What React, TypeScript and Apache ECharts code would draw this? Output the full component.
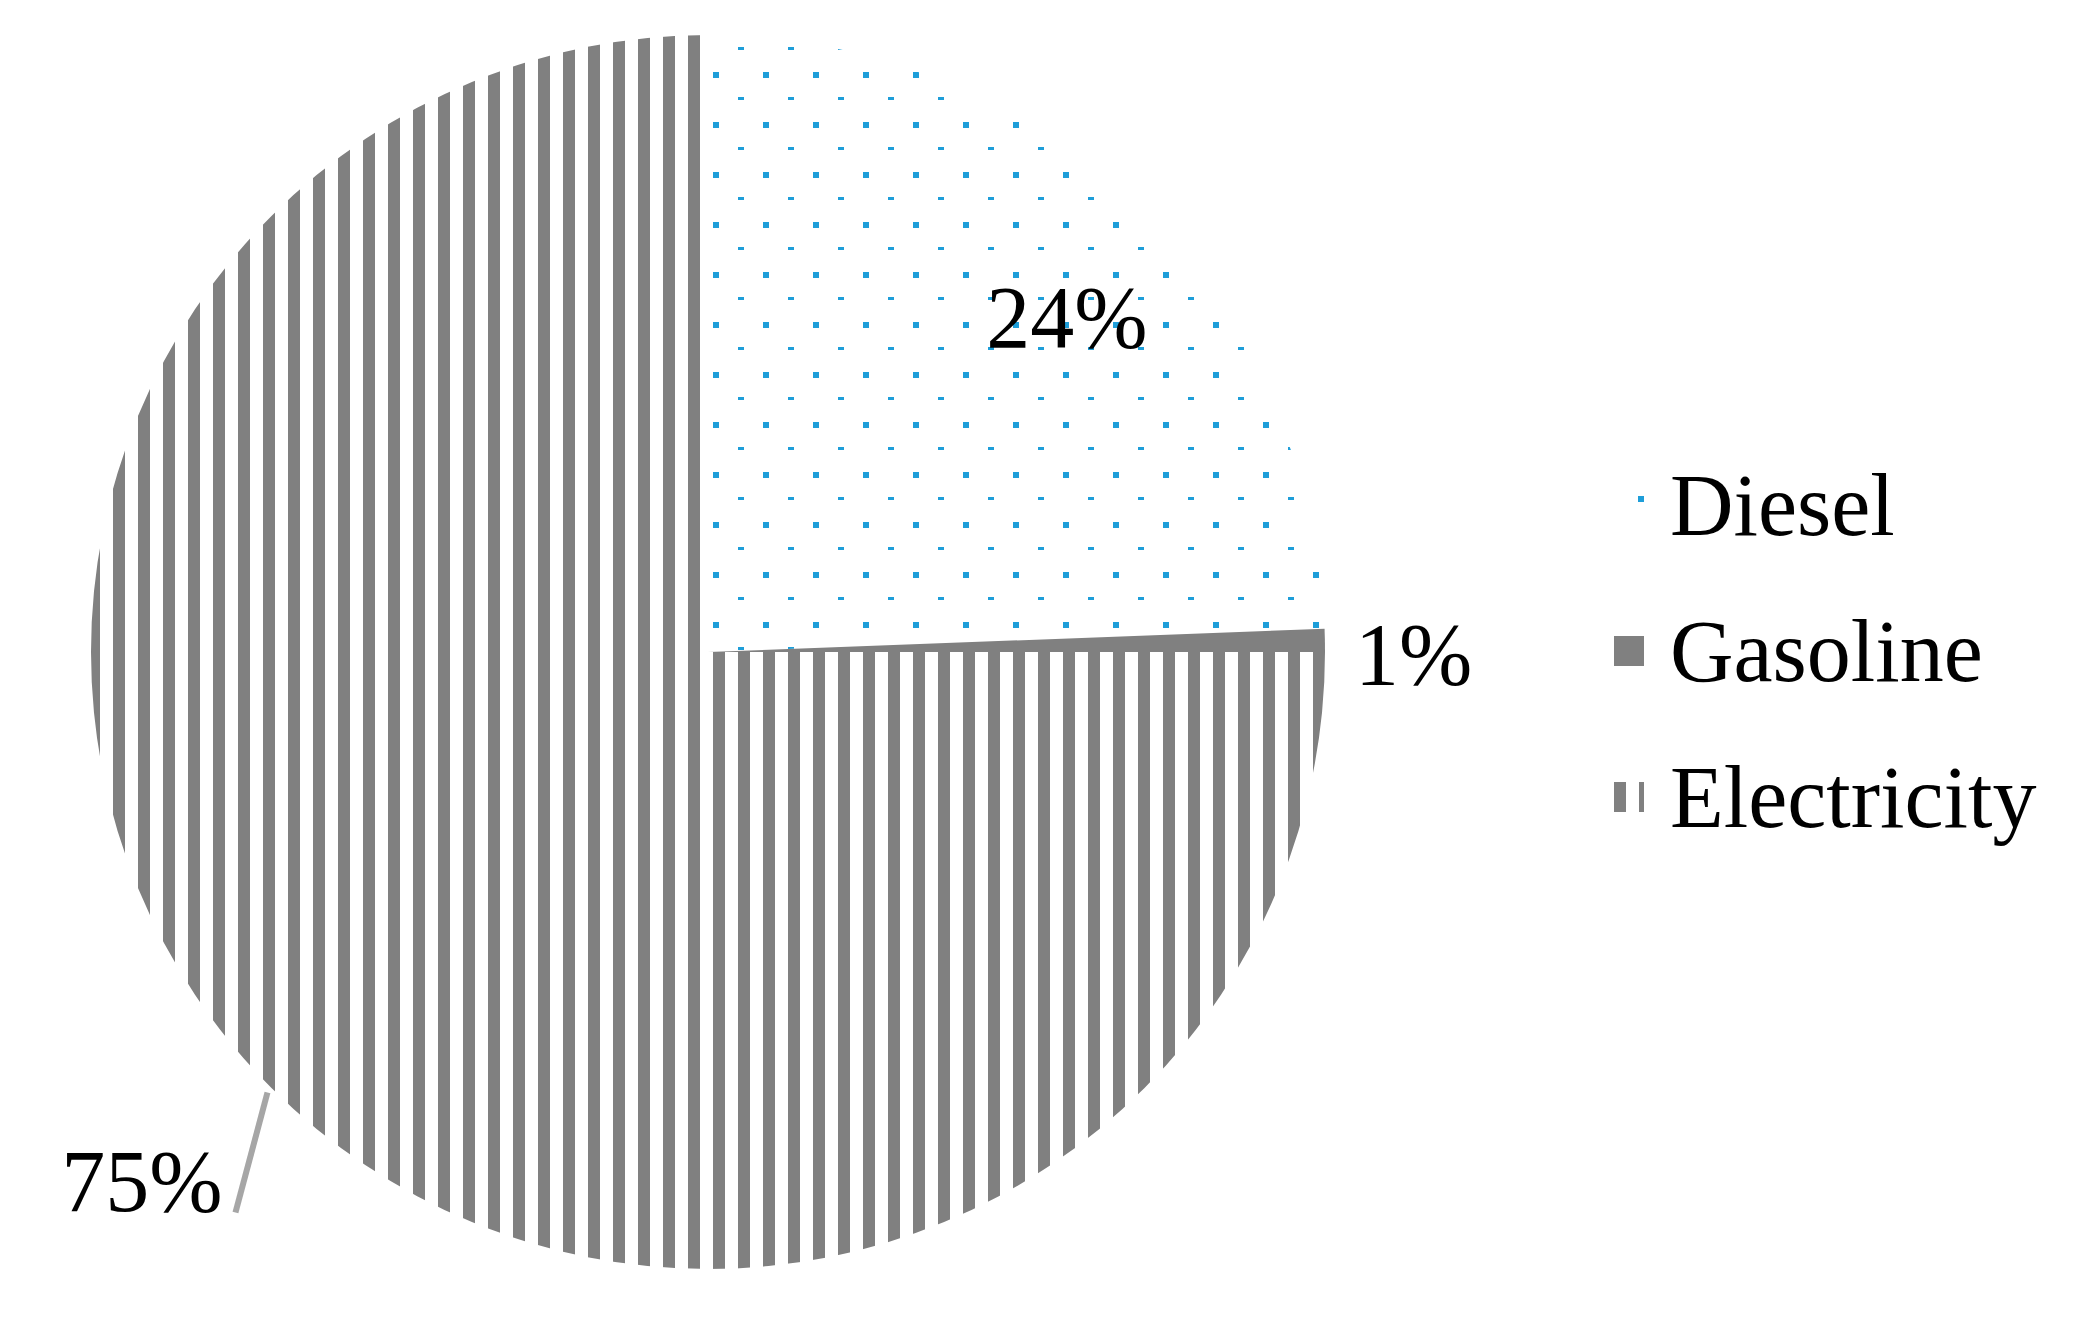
import React, { useEffect, useRef } from 'react';
import * as echarts from 'echarts';

// ---- data ----
const categories = ['Diesel', 'Gasoline', 'Electricity'];
const shares = [24.4, 0.6, 75.0];

// ---- layout / style constants ----
const CX = 708;
const CY = 652;
const R = 617;
const FONT = 'Liberation Serif, Times New Roman, serif';
const GRAY = '#808080';
const BLUE = '#1e9ed9';

function makeTile(w: number, h: number, draw: (ctx: CanvasRenderingContext2D) => void): string {
  const c = document.createElement('canvas');
  c.width = w;
  c.height = h;
  const ctx = c.getContext('2d') as CanvasRenderingContext2D;
  draw(ctx);
  return c.toDataURL('image/png');
}

function midDir(i: number) {
  const total = shares.reduce((a, b) => a + b, 0);
  let before = 0;
  for (let k = 0; k < i; k++) before += shares[k];
  const frac = (before + shares[i] / 2) / total;
  const th = frac * Math.PI * 2;
  return { x: Math.sin(th), y: -Math.cos(th), th };
}

export default function App() {
  const ref = useRef<HTMLDivElement>(null);

  useEffect(() => {
    if (!ref.current) return;
    const chart = echarts.init(ref.current, undefined, { renderer: 'svg' });

    const stripes = makeTile(25, 25, (ctx) => {
      ctx.fillStyle = GRAY;
      ctx.fillRect(13, 0, 12, 25);
    });
    const dots = makeTile(50, 50, (ctx) => {
      ctx.fillStyle = BLUE;
      ctx.fillRect(13, 22, 6, 6);
      ctx.fillRect(38, 47, 6, 6);
    });
    const legendStripes = makeTile(25, 25, (ctx) => {
      ctx.fillStyle = GRAY;
      ctx.fillRect(0, 0, 12, 25);
    });
    const legendDots = makeTile(50, 50, (ctx) => {
      ctx.fillStyle = BLUE;
      ctx.fillRect(24, 6, 6, 6);
    });

    const stripePattern: any = { image: stripes, repeat: 'repeat', imageWidth: 25, imageHeight: 25 };
    const dotPattern: any = { image: dots, repeat: 'repeat', imageWidth: 50, imageHeight: 50 };

    const colors = [dotPattern, GRAY, stripePattern];
    const legendColors = [
      { image: legendDots, repeat: 'repeat', imageWidth: 50, imageHeight: 50 },
      GRAY,
      { image: legendStripes, repeat: 'repeat', imageWidth: 25, imageHeight: 25 },
    ];

    const option: any = {
      animation: false,
      backgroundColor: '#ffffff',
      legend: {
        orient: 'vertical',
        left: 1614,
        top: 461,
        padding: 0,
        itemWidth: 30,
        itemHeight: 30,
        itemGap: 58,
        icon: 'rect',
        selectedMode: false,
        textStyle: {
          fontSize: 88,
          fontFamily: FONT,
          color: '#000000',
          lineHeight: 30,
          padding: [0, 0, 0, 21],
        },
        data: categories.map((name, i) => ({
          name,
          itemStyle: { color: legendColors[i], borderWidth: 0 },
        })),
      },
      series: [
        {
          type: 'pie',
          center: [CX, CY],
          radius: [0, R],
          startAngle: 90,
          clockwise: true,
          avoidLabelOverlap: false,
          silent: true,
          emphasis: { disabled: true },
          itemStyle: { borderWidth: 0 },
          label: {
            show: true,
            formatter: (p: any) => Math.round(p.value) + '%',
            fontSize: 88,
            fontFamily: FONT,
            color: '#000000',
          },
          labelLine: {
            show: false,
            lineStyle: { color: '#a6a6a6', width: 6 },
          },
          labelLayout: (p: any) => {
            const i = p.dataIndex;
            if (i === 0) {
              const d = midDir(0);
              const th = d.th + (3.1 * Math.PI) / 180;
              const rr = 0.795 * R;
              return {
                x: CX + Math.sin(th) * rr,
                y: CY - Math.cos(th) * rr,
                align: 'center',
                verticalAlign: 'middle',
              };
            }
            if (i === 1) {
              return {
                x: CX + R + 30,
                y: CY + 2,
                align: 'left',
                verticalAlign: 'middle',
              };
            }
            const d = midDir(i);
            const sx = CX + d.x * (R + 6);
            const sy = CY + d.y * (R + 6);
            const ex = sx - 32;
            const ey = sy + 120;
            return {
              x: ex - 13,
              y: ey - 31,
              align: 'right',
              verticalAlign: 'middle',
              labelLinePoints: [
                [sx, sy],
                [ex, ey],
                [ex, ey],
              ],
            };
          },
          data: categories.map((name, i) => ({
            name,
            value: shares[i],
            itemStyle: { color: colors[i] },
            label: { position: i === 0 ? 'inside' : 'outside' },
            labelLine: { show: i === 2 },
          })),
        },
      ],
    };

    chart.setOption(option);
    return () => {
      chart.dispose();
    };
  }, []);

  return (
    <div
      ref={ref}
      style={{ position: 'absolute', left: 0, top: 0, width: 2084, height: 1328, background: '#fff' }}
    />
  );
}
